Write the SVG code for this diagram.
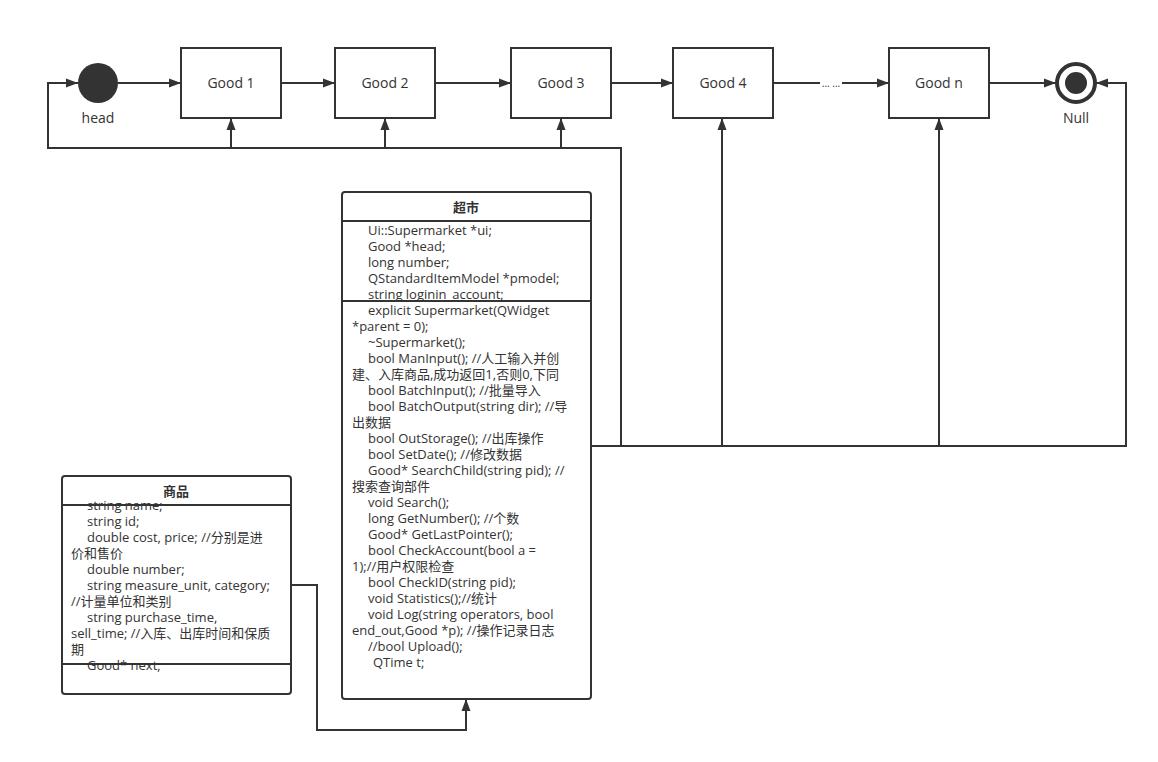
<svg xmlns="http://www.w3.org/2000/svg" width="1158" height="762" viewBox="0 0 1158 762">
<defs>
<marker id="arr" viewBox="0 0 12 10" refX="12" refY="5" markerWidth="12" markerHeight="10" markerUnits="userSpaceOnUse" orient="auto">
<path d="M0,0.5 L12,5 L0,9.5 Z" fill="#333"/>
</marker>
<style>
.box{fill:#fff;stroke:#333;stroke-width:2}
.ln{fill:none;stroke:#333;stroke-width:2}
.t{font-family:"Open Sans","Noto Sans CJK SC",sans-serif;font-size:14px;fill:#333}
.c{text-anchor:middle}
.b{font-weight:bold;font-size:13px}
.m{font-family:"Open Sans","Noto Sans CJK SC",sans-serif;font-size:13px;fill:#333}
</style>
</defs>
<rect width="1158" height="762" fill="#fff"/>
<g id="connectors">
<line class="ln" x1="118" y1="83" x2="181" y2="83" marker-end="url(#arr)"/>
<line class="ln" x1="281" y1="83" x2="335" y2="83" marker-end="url(#arr)"/>
<line class="ln" x1="435" y1="83" x2="511" y2="83" marker-end="url(#arr)"/>
<line class="ln" x1="611" y1="83" x2="673" y2="83" marker-end="url(#arr)"/>
<line class="ln" x1="773" y1="83" x2="820" y2="83"/>
<line class="ln" x1="842" y1="83" x2="889" y2="83" marker-end="url(#arr)"/>
<text class="t" x="831" y="87" text-anchor="middle" style="font-size:10px">... ...</text>
<line class="ln" x1="989" y1="83" x2="1056" y2="83" marker-end="url(#arr)"/>
<path class="ln" d="M591,446 H621 V148 H48 V83 H78" marker-end="url(#arr)"/>
<path class="ln" d="M231,148 V118" marker-end="url(#arr)"/>
<path class="ln" d="M385,148 V118" marker-end="url(#arr)"/>
<path class="ln" d="M561,148 V118" marker-end="url(#arr)"/>
<path class="ln" d="M621,446 H1126 V83 H1096" marker-end="url(#arr)"/>
<path class="ln" d="M722,446 V118" marker-end="url(#arr)"/>
<path class="ln" d="M939,446 V118" marker-end="url(#arr)"/>
<path class="ln" d="M291,585 H317 V730 H466 V699" marker-end="url(#arr)"/>
</g>
<g id="head">
<circle cx="98" cy="83" r="20" fill="#333"/>
<text class="t c" x="98" y="123">head</text>
</g>
<g id="good1"><rect class="box" x="181" y="48" width="100" height="70"/><text class="t c" x="231" y="88">Good 1</text></g>
<g id="good2"><rect class="box" x="335" y="48" width="100" height="70"/><text class="t c" x="385" y="88">Good 2</text></g>
<g id="good3"><rect class="box" x="511" y="48" width="100" height="70"/><text class="t c" x="561" y="88">Good 3</text></g>
<g id="good4"><rect class="box" x="673" y="48" width="100" height="70"/><text class="t c" x="723" y="88">Good 4</text></g>
<g id="goodn"><rect class="box" x="889" y="48" width="100" height="70"/><text class="t c" x="939" y="88">Good n</text></g>
<g id="null">
<circle cx="1076" cy="83" r="19" fill="#fff" stroke="#333" stroke-width="4"/>
<circle cx="1076" cy="83" r="11" fill="#333"/>
<text class="t c" x="1076" y="123">Null</text>
</g>
<g id="supermarket">
<rect class="box" x="342" y="192" width="249" height="507" rx="3"/>
<line class="ln" x1="342" y1="221" x2="591" y2="221"/>
<line class="ln" x1="342" y1="301" x2="591" y2="301"/>
<text class="t c b" x="466" y="212">超市</text>
<g class="m">
<text x="368" y="235">Ui::Supermarket *ui;</text>
<text x="368" y="251">Good *head;</text>
<text x="368" y="267">long number;</text>
<text x="368" y="283">QStandardItemModel *pmodel;</text>
<text x="368" y="299">string loginin_account;</text>
<text x="368" y="315">explicit Supermarket(QWidget</text>
<text x="352" y="331">*parent = 0);</text>
<text x="368" y="347">~Supermarket();</text>
<text x="368" y="363">bool ManInput(); //人工输入并创</text>
<text x="352" y="379">建、入库商品,成功返回1,否则0,下同</text>
<text x="368" y="395">bool BatchInput(); //批量导入</text>
<text x="368" y="411">bool BatchOutput(string dir); //导</text>
<text x="352" y="427">出数据</text>
<text x="368" y="443">bool OutStorage(); //出库操作</text>
<text x="368" y="459">bool SetDate(); //修改数据</text>
<text x="368" y="475">Good* SearchChild(string pid); //</text>
<text x="352" y="491">搜索查询部件</text>
<text x="368" y="507">void Search();</text>
<text x="368" y="523">long GetNumber(); //个数</text>
<text x="368" y="539">Good* GetLastPointer();</text>
<text x="368" y="555">bool CheckAccount(bool a =</text>
<text x="352" y="571">1);//用户权限检查</text>
<text x="368" y="587">bool CheckID(string pid);</text>
<text x="368" y="603">void Statistics();//统计</text>
<text x="368" y="619">void Log(string operators, bool</text>
<text x="352" y="635">end_out,Good *p); //操作记录日志</text>
<text x="368" y="651">//bool Upload();</text>
<text x="373" y="667">QTime t;</text>
</g>
</g>
<g id="goods">
<rect class="box" x="62" y="476" width="229" height="218" rx="3"/>
<text class="t c b" x="176" y="496">商品</text>
<g class="m">
<text x="87" y="510">string name;</text>
<text x="87" y="526">string id;</text>
<text x="87" y="542">double cost, price; //分别是进</text>
<text x="71" y="558">价和售价</text>
<text x="87" y="574">double number;</text>
<text x="87" y="590">string measure_unit, category;</text>
<text x="71" y="606">//计量单位和类别</text>
<text x="87" y="622">string purchase_time,</text>
<text x="71" y="638">sell_time; //入库、出库时间和保质</text>
<text x="71" y="654">期</text>
<text x="87" y="670">Good* next;</text>
</g>
<line class="ln" x1="62" y1="505" x2="291" y2="505"/>
<line class="ln" x1="62" y1="664" x2="291" y2="664"/>
</g>
</svg>
